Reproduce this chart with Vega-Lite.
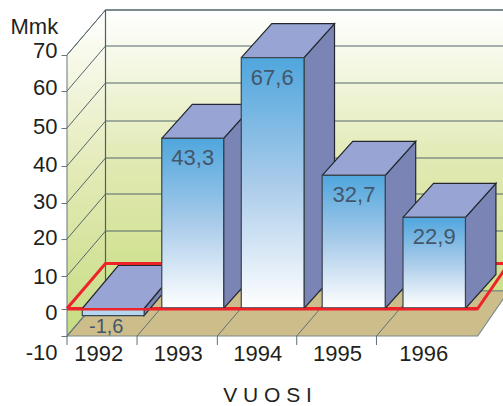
{
"$schema":"https://vega.github.io/schema/vega-lite/v6.json",
"width":503,"height":406,"padding":0,"autosize":"none","background":"white",
"config":{"view":{"stroke":null},"font":"Liberation Sans"},
"datasets":{
"bars":[{"year":1992,"value":-1.6,"label":"-1,6"},{"year":1993,"value":43.3,"label":"43,3"},{"year":1994,"value":67.6,"label":"67,6"},{"year":1995,"value":32.7,"label":"32,7"},{"year":1996,"value":22.9,"label":"22,9"}],
"levels":[{"level":10},{"level":20},{"level":30},{"level":40},{"level":50},{"level":60},{"level":70}],
"ticks":[{"tick":1991.419},{"tick":1992.3},{"tick":1993.31},{"tick":1994.3},{"tick":1995.28}],
"planes":[{"plane":"left","low":-10,"high":70}],
"floors":[{"name":"floor","level":-10},{"name":"zero","level":0}]
},
"layer":[
{"data":{"name":"planes"},
 "transform":[{"calculate":"scale('x',1991.419)","as":"a"},{"calculate":"[datum.a,datum.a+38.5,datum.a+38.5,datum.a,datum.a]","as":"sx"},{"calculate":"[scale('y',datum.high),scale('y',datum.high)-45,scale('y',datum.low)-45,scale('y',datum.low),scale('y',datum.high)]","as":"sy"},{"calculate":"[0,1,2,3,4]","as":"c"},{"flatten":["sx","sy","c"]}],
 "mark":{"type":"line","strokeWidth":1,"stroke":"#66777c","fill":{"gradient":"linear","x1":0,"y1":0,"x2":0,"y2":1,"stops":[{"offset":0,"color":"#ffffff"},{"offset":0.5,"color":"#e3eab6"},{"offset":1,"color":"#c6dc82"}]}},
 "encoding":{"x":{"field":"sx","type":"quantitative","scale":null},"y":{"field":"sy","type":"quantitative","scale":null},"order":{"field":"c","type":"quantitative"}}},
{"data":{"name":"planes"},
 "transform":[{"calculate":"scale('x',1991.419)+38.5","as":"a"},{"calculate":"scale('x',1996.442)+38.5","as":"b"},{"calculate":"[datum.a,datum.b,datum.b,datum.a,datum.a]","as":"sx"},{"calculate":"[scale('y',datum.low)-45,scale('y',datum.low)-45,scale('y',datum.high)-45,scale('y',datum.high)-45,scale('y',datum.low)-45]","as":"sy"},{"calculate":"[0,1,2,3,4]","as":"c"},{"flatten":["sx","sy","c"]}],
 "mark":{"type":"line","strokeWidth":1.2,"stroke":"#4d5f6a","fill":{"gradient":"linear","x1":0,"y1":0,"x2":0,"y2":1,"stops":[{"offset":0,"color":"#ffffff"},{"offset":0.55,"color":"#e1e9b2"},{"offset":1,"color":"#cde08a"}]}},
 "encoding":{"x":{"field":"sx","type":"quantitative","scale":null},"y":{"field":"sy","type":"quantitative","scale":null},"order":{"field":"c","type":"quantitative"}}},
{"data":{"name":"levels"},
 "transform":[{"calculate":"scale('x',1991.419)","as":"a"},{"calculate":"scale('y',datum.level)","as":"f"},{"calculate":"[datum.a,datum.a+38.5,scale('x',1996.442)+38.5]","as":"sx"},{"calculate":"[datum.f,datum.f-45,datum.f-45]","as":"sy"},{"calculate":"[0,1,2]","as":"c"},{"flatten":["sx","sy","c"]}],
 "mark":{"type":"line","strokeWidth":1,"stroke":"#55666c"},
 "encoding":{"x":{"field":"sx","type":"quantitative","scale":null},"y":{"field":"sy","type":"quantitative","scale":null},"order":{"field":"c","type":"quantitative"},"detail":{"field":"level"}}},
{"data":{"name":"floors"},
 "transform":[{"filter":"datum.name=='floor'"},{"calculate":"scale('x',1991.419)","as":"a"},{"calculate":"scale('x',1996.542)","as":"b"},{"calculate":"scale('y',datum.level)","as":"f"},{"calculate":"[datum.a,datum.b,datum.b+31,datum.a+38.5,datum.a]","as":"sx"},{"calculate":"[datum.f,datum.f,datum.f-45,datum.f-45,datum.f]","as":"sy"},{"calculate":"[0,1,2,3,4]","as":"c"},{"flatten":["sx","sy","c"]}],
 "mark":{"type":"line","strokeWidth":1.2,"stroke":"#7a8a8c","fill":"#cdbd8a"},
 "encoding":{"x":{"field":"sx","type":"quantitative","scale":null},"y":{"field":"sy","type":"quantitative","scale":null},"order":{"field":"c","type":"quantitative"}}},
{"data":{"name":"ticks"},
 "transform":[{"calculate":"scale('x',datum.tick)","as":"a"},{"calculate":"[datum.a,datum.a,datum.a+38.5]","as":"sx"},{"calculate":"[scale('y',-12),scale('y',-10),scale('y',-10)-45]","as":"sy"},{"calculate":"[0,1,2]","as":"c"},{"flatten":["sx","sy","c"]}],
 "mark":{"type":"line","strokeWidth":1,"stroke":"#5f6f74"},
 "encoding":{"x":{"field":"sx","type":"quantitative","scale":null},"y":{"field":"sy","type":"quantitative","scale":null},"order":{"field":"c","type":"quantitative"},"detail":{"field":"tick"}}},
{"data":{"name":"floors"},
 "transform":[{"filter":"datum.name=='zero'"},{"calculate":"scale('x',1991.419)","as":"a"},{"calculate":"scale('x',1996.542)","as":"b"},{"calculate":"scale('y',datum.level)","as":"f"},{"calculate":"[datum.a,datum.b,datum.b+31,datum.a+38.5,datum.a]","as":"sx"},{"calculate":"[datum.f,datum.f,datum.f-45,datum.f-45,datum.f]","as":"sy"},{"calculate":"[0,1,2,3,4]","as":"c"},{"flatten":["sx","sy","c"]}],
 "mark":{"type":"line","strokeWidth":3,"stroke":"#ee2229"},
 "encoding":{"x":{"field":"sx","type":"quantitative","scale":null},"y":{"field":"sy","type":"quantitative","scale":null},"order":{"field":"c","type":"quantitative"}}},
{"data":{"name":"bars"},
 "transform":[{"calculate":"scale('x',datum.year+0.389)","as":"a"},{"calculate":"scale('y',max(datum.value,0))","as":"t"},{"calculate":"scale('y',min(datum.value,0))","as":"u"},{"calculate":"datum.value<0?36:30.5","as":"dx"},{"calculate":"datum.value<0?43:34","as":"dy"},{"calculate":"[datum.a,datum.a+datum.dx,datum.a+datum.dx,datum.a,datum.a]","as":"sx"},{"calculate":"[datum.t,datum.t-datum.dy,datum.u-datum.dy,datum.u,datum.t]","as":"sy"},{"calculate":"[0,1,2,3,4]","as":"c"},{"flatten":["sx","sy","c"]}],
 "mark":{"type":"line","strokeWidth":1.2,"stroke":"#24282e","fill":"#7a84b5"},
 "encoding":{"x":{"field":"sx","type":"quantitative","scale":null},"y":{"field":"sy","type":"quantitative","scale":null},"order":{"field":"c","type":"quantitative"},"detail":{"field":"year"}}},
{"data":{"name":"bars"},
 "transform":[{"calculate":"scale('x',datum.year-0.389)","as":"a"},{"calculate":"scale('x',datum.year+0.389)","as":"b"},{"calculate":"scale('y',max(datum.value,0))","as":"t"},{"calculate":"datum.value<0?36:30.5","as":"dx"},{"calculate":"datum.value<0?43:34","as":"dy"},{"calculate":"[datum.a,datum.b,datum.b+datum.dx,datum.a+datum.dx,datum.a]","as":"sx"},{"calculate":"[datum.t,datum.t,datum.t-datum.dy,datum.t-datum.dy,datum.t]","as":"sy"},{"calculate":"[0,1,2,3,4]","as":"c"},{"flatten":["sx","sy","c"]}],
 "mark":{"type":"line","strokeWidth":1.2,"stroke":"#24282e","fill":"#98a4d4"},
 "encoding":{"x":{"field":"sx","type":"quantitative","scale":null},"y":{"field":"sy","type":"quantitative","scale":null},"order":{"field":"c","type":"quantitative"},"detail":{"field":"year"}}},
{"data":{"name":"bars"},
 "transform":[{"filter":"datum.value>0"},{"calculate":"datum.year-0.389","as":"xl"},{"calculate":"datum.year+0.389","as":"xr"}],
 "mark":{"type":"rect","strokeWidth":1.2,"stroke":"#3a4650","fill":{"gradient":"linear","x1":0,"y1":0,"x2":0,"y2":1,"stops":[{"offset":0,"color":"#4fa6dd"},{"offset":0.5,"color":"#a9cbea"},{"offset":1,"color":"#ffffff"}]}},
 "encoding":{
  "x":{"field":"xl","type":"quantitative","scale":{"domain":[1991.419,1992,1993,1994,1995,1996,1996.542],"range":[67,113.2,192.7,272.2,354,434.2,477.7],"nice":false,"zero":false},
   "axis":{"values":[1992,1993,1994,1995,1996],"format":"d","offset":-70,"grid":false,"domain":false,"ticks":false,"labelFontSize":22,"labelColor":"#231f20","labelPadding":7,"labelFont":"Liberation Sans","labelOverlap":false,"labelFlush":false,"labelOffset":{"expr":"datum.value==1996?-11:datum.value==1995?-17:-15"},"title":"V U O S I","titleFontSize":21,"titleFontWeight":"normal","titleColor":"#231f20","titleFont":"Liberation Sans","titleX":267,"titleY":65,"titleAlign":"center","titleBaseline":"alphabetic"}},
  "x2":{"field":"xr"},
  "y":{"field":"value","type":"quantitative","scale":{"domain":[-12,-10,-1.6,0,10,20,22.9,30,32.7,40,43.3,50,60,67.6,70],"range":[345,336,315.7,308.5,276,239,217.3,203,175.3,166,138.3,128,91,57.7,55],"nice":false,"zero":false},
   "axis":{"values":[-10,0,10,20,30,40,50,60,70],"offset":-67,"grid":false,"domain":false,"tickSize":6,"tickColor":"#66777c","labelFontSize":22,"labelColor":"#231f20","labelPadding":4,"labelFont":"Liberation Sans","labelOverlap":false,"labelFlush":false,"labelExpr":"datum.value==-10?'-10':datum.label","labelOffset":{"expr":"datum.value==-10?16:datum.value==0?4:datum.value==70?-5:datum.value==60?-4:datum.value==10?0:-2"},"title":"Mmk","titleAngle":0,"titleFontSize":22,"titleFontWeight":"normal","titleColor":"#231f20","titleFont":"Liberation Sans","titleX":-57,"titleY":33,"titleAlign":"left","titleBaseline":"alphabetic"}},
  "y2":{"datum":0.2}}},
{"data":{"name":"bars"},
 "transform":[{"filter":"datum.value<0"},{"calculate":"datum.year-0.389","as":"xl"},{"calculate":"datum.year+0.389","as":"xr"}],
 "mark":{"type":"rect","strokeWidth":1.2,"stroke":"#3a4650","fill":"#b5d6ef"},
 "encoding":{"x":{"field":"xl","type":"quantitative"},"x2":{"field":"xr"},"y":{"field":"value","type":"quantitative"},"y2":{"datum":0}}},
{"data":{"name":"floors"},
 "transform":[{"filter":"datum.name=='zero'"},{"calculate":"1991.419","as":"xl"},{"calculate":"1996.542","as":"xr"}],
 "mark":{"type":"rule","strokeWidth":2.6,"stroke":"#ee2229"},
 "encoding":{"x":{"field":"xl","type":"quantitative"},"x2":{"field":"xr"},"y":{"datum":-0.15,"type":"quantitative"}}},
{"data":{"name":"bars"},
 "transform":[{"filter":"datum.value>0"}],
 "mark":{"type":"text","fontSize":22,"dy":27,"baseline":"alphabetic","align":"center","color":"#45566a","font":"Liberation Sans"},
 "encoding":{"x":{"field":"year","type":"quantitative"},"y":{"field":"value","type":"quantitative"},"text":{"field":"label"}}},
{"data":{"name":"bars"},
 "transform":[{"filter":"datum.value<0"}],
 "mark":{"type":"text","fontSize":20,"dy":17,"dx":-7,"baseline":"alphabetic","align":"center","color":"#45566a","font":"Liberation Sans"},
 "encoding":{"x":{"field":"year","type":"quantitative"},"y":{"field":"value","type":"quantitative"},"text":{"field":"label"}}}
]
}
